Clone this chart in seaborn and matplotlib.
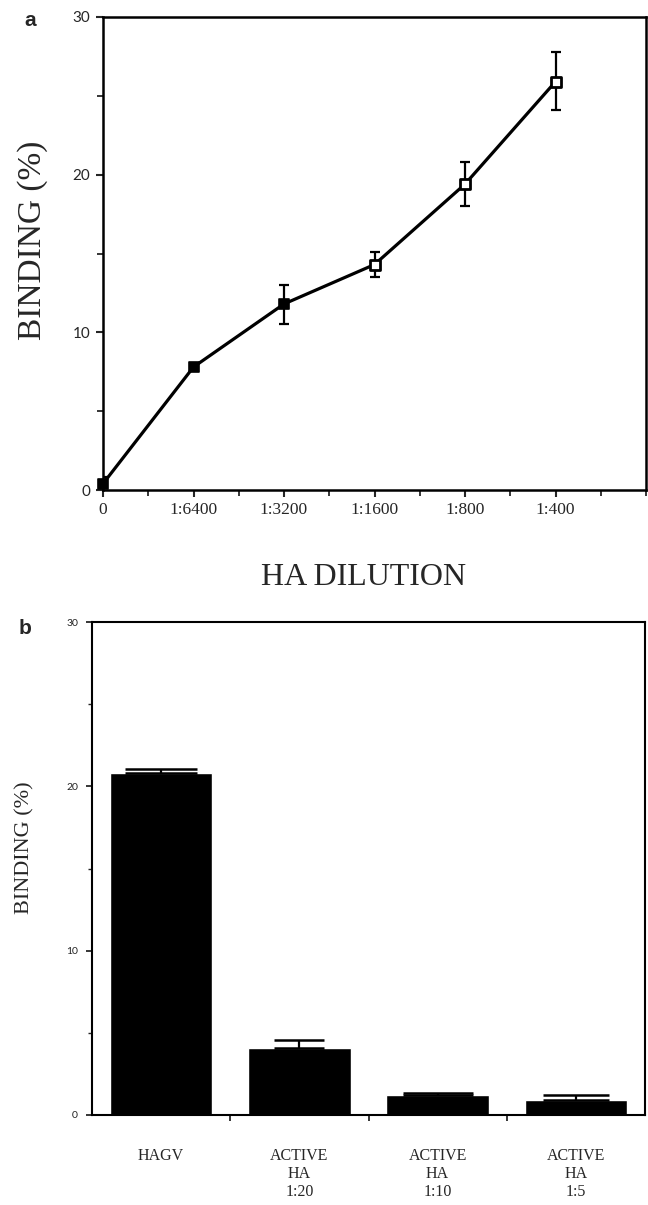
import numpy as np
import pandas as pd
import matplotlib
matplotlib.use("Agg")
import matplotlib.pyplot as plt
from matplotlib.ticker import MultipleLocator
import seaborn as sns

# ---- data ----
dilution_labels = ["0", "1:6400", "1:3200", "1:1600", "1:800", "1:400"]
binding_a = [0.4, 7.8, 11.8, 14.3, 19.4, 25.9]
err_a_low = [0.3, 0.0, 1.3, 0.8, 1.4, 1.8]
err_a_high = [0.4, 0.0, 1.2, 0.8, 1.4, 1.9]
filled_flags = [True, True, True, False, False, False]

groups_b = ["HAGV", "ACTIVE\nHA\n1:20", "ACTIVE\nHA\n1:10", "ACTIVE\nHA\n1:5"]
binding_b = [20.8, 4.1, 1.2, 0.9]
err_b = [0.25, 0.45, 0.15, 0.3]

sns.set_style("ticks")
plt.rcParams['font.family'] = ['DejaVu Sans']
plt.rcParams['xtick.direction'] = 'out'
plt.rcParams['ytick.direction'] = 'out'

fig = plt.figure(figsize=(6.48, 12.05), dpi=100)

serif = ['Liberation Serif', 'DejaVu Serif']
sans = ['Lato', 'DejaVu Sans']

# ---------- panel a ----------
axa = fig.add_axes([103/648, 1-490/1205, (646-103)/648, (490-17)/1205])
xa = np.arange(len(binding_a))
dfa = pd.DataFrame({"x": xa, "y": binding_a, "filled": filled_flags})
sns.lineplot(data=dfa, x="x", y="y", ax=axa, color="black", linewidth=2.3,
             estimator=None, sort=False)
axa.errorbar(xa, binding_a, yerr=[err_a_low, err_a_high], fmt="none",
             ecolor="black", elinewidth=1.6, capsize=3.5, capthick=1.6, zorder=3)
sns.scatterplot(data=dfa[dfa["filled"]], x="x", y="y", ax=axa, marker="s",
                s=55, color="black", edgecolor="black", linewidth=1.2, zorder=4,
                clip_on=False)
sns.scatterplot(data=dfa[~dfa["filled"]], x="x", y="y", ax=axa, marker="s",
                s=45, color="white", edgecolor="black", linewidth=2.0, zorder=4,
                clip_on=False)
axa.set_xlim(0, 6)
axa.set_ylim(0, 30)
axa.set_xticks(xa)
axa.set_xticklabels(dilution_labels, family=serif, fontsize=12.5)
axa.xaxis.set_minor_locator(MultipleLocator(0.5))
axa.set_yticks([0, 10, 20, 30])
axa.set_yticklabels(["0", "10", "20", "30"], family=sans, fontsize=11)
axa.yaxis.set_minor_locator(MultipleLocator(5))
axa.tick_params(which="major", length=5, width=1.5, pad=4)
axa.tick_params(which="minor", length=4, width=1.3)
axa.set_xlabel("")
axa.set_ylabel("")
for sp in axa.spines.values():
    sp.set_linewidth(1.8)
    sp.set_color("black")
fig.text(33/648, 1-240/1205, "BINDING (%)", rotation=90, ha="center", va="center",
         family=serif, fontsize=24)
fig.text(364/648, 1-577/1205, "HA DILUTION", ha="center", va="center",
         family=serif, fontsize=23)
fig.text(30/648, 1-20/1205, "a", ha="center", va="center", family=['Liberation Sans', 'DejaVu Sans'],
         fontsize=15, fontweight="bold")

# ---------- panel b ----------
axb = fig.add_axes([92/648, 1-1115/1205, (645-92)/648, (1115-622)/1205])
dfb = pd.DataFrame({"group": groups_b, "binding": binding_b})
sns.barplot(data=dfb, x="group", y="binding", ax=axb, color="black",
            width=0.74, errorbar=None, saturation=1)
xb = np.arange(len(binding_b))
cap_sizes = [26, 18, 25, 24]
for xi, yi, ei, cs in zip(xb, binding_b, err_b, cap_sizes):
    axb.errorbar([xi], [yi], yerr=[[0], [ei]], fmt="none", ecolor="black",
                 elinewidth=1.6, capsize=cs, capthick=1.8, zorder=3)
axb.set_xlim(-0.5, 3.5)
axb.set_ylim(0, 30)
axb.set_xticks(xb)
axb.set_xticklabels(groups_b, family=serif, fontsize=11.5, linespacing=1.15)
axb.set_xticks([0.5, 1.5, 2.5], minor=True)
axb.tick_params(axis="x", which="major", length=0, pad=24)
axb.tick_params(axis="x", which="minor", length=4, width=1.3)
axb.set_yticks([0, 10, 20, 30])
axb.set_yticklabels(["0", "10", "20", "30"], family=sans, fontsize=7.5, color="#222222")
axb.yaxis.set_minor_locator(MultipleLocator(5))
axb.tick_params(axis="y", which="major", length=4, width=1.3, pad=6)
axb.tick_params(axis="y", which="minor", length=3, width=1.0)
axb.set_xlabel("")
axb.set_ylabel("")
for sp in axb.spines.values():
    sp.set_linewidth(1.5)
    sp.set_color("black")
fig.text(25/648, 1-848/1205, "BINDING (%)", rotation=90, ha="center", va="center",
         family=serif, fontsize=16)
fig.text(25/648, 1-628/1205, "b", ha="center", va="center", family=['Liberation Sans', 'DejaVu Sans'],
         fontsize=15, fontweight="bold")

fig.savefig("out.png", dpi=100)
